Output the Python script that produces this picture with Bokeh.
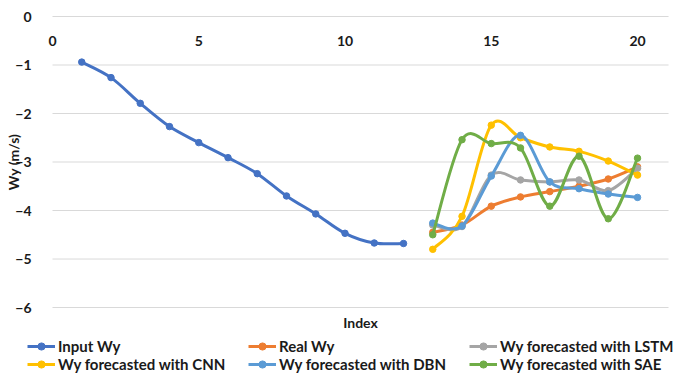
import numpy as np
from bokeh.plotting import figure
from bokeh.models import Range1d, Legend, LegendItem, Label, SingleIntervalTicker, FixedTicker
from bokeh.embed import file_html
from bokeh.resources import INLINE

# ---- data ----
input_x = [1, 2, 3, 4, 5, 6, 7, 8, 9, 10, 11, 12]
input_wy = [-0.94, -1.26, -1.79, -2.27, -2.60, -2.91, -3.24, -3.70, -4.07, -4.47, -4.67, -4.68]
fc_x = [13, 14, 15, 16, 17, 18, 19, 20]
real_wy = [-4.45, -4.30, -3.91, -3.72, -3.61, -3.50, -3.35, -3.10]
lstm_wy = [-4.30, -4.33, -3.27, -3.37, -3.41, -3.37, -3.59, -3.13]
cnn_wy = [-4.80, -4.12, -2.24, -2.50, -2.69, -2.78, -2.98, -3.27]
dbn_wy = [-4.26, -4.32, -3.29, -2.45, -3.41, -3.55, -3.66, -3.73]
sae_wy = [-4.50, -2.54, -2.62, -2.71, -3.91, -2.88, -4.17, -2.92]
y_ticks = [-6, -5, -4, -3, -2, -1, 0]
x_axis_min, x_axis_max = 0, 21.06

series = [
    ("Input Wy", input_x, input_wy, "#4472C4"),
    ("Real Wy", fc_x, real_wy, "#ED7D31"),
    ("Wy forecasted with LSTM", fc_x, lstm_wy, "#A5A5A5"),
    ("Wy forecasted with CNN", fc_x, cnn_wy, "#FFC000"),
    ("Wy forecasted with DBN", fc_x, dbn_wy, "#5B9BD5"),
    ("Wy forecasted with SAE", fc_x, sae_wy, "#70AD47"),
]

FONT = "Lato"
TXT = "#1a1a1a"
LW = 3
MS = 6.5


def smooth_segments(xs, ys):
    P = np.column_stack([np.asarray(xs, float), np.asarray(ys, float)])
    ext = np.vstack([P[0], P, P[-1]])
    seg = dict(x0=[], y0=[], x1=[], y1=[], cx0=[], cy0=[], cx1=[], cy1=[])
    for i in range(len(P) - 1):
        p0, p1, p2, p3 = ext[i], ext[i + 1], ext[i + 2], ext[i + 3]
        c1 = p1 + (p2 - p0) / 6.0
        c2 = p2 - (p3 - p1) / 6.0
        seg["x0"].append(p1[0]); seg["y0"].append(p1[1])
        seg["x1"].append(p2[0]); seg["y1"].append(p2[1])
        seg["cx0"].append(c1[0]); seg["cy0"].append(c1[1])
        seg["cx1"].append(c2[0]); seg["cy1"].append(c2[1])
    return seg


# frame covers the whole page; axes are pinned inside it
p = figure(width=673, height=374, output_backend="svg", toolbar_location=None,
           x_range=Range1d(-1.778, 21.23), y_range=Range1d(-7.381, 0.33),
           min_border_top=0, min_border_right=0, min_border_left=0, min_border_bottom=0)
p.outline_line_color = None
p.background_fill_color = "white"
p.border_fill_color = "white"
p.xgrid.visible = False
p.ygrid.visible = False

# horizontal gridlines (only over the plotting area)
p.segment(x0=[x_axis_min] * len(y_ticks), x1=[x_axis_max] * len(y_ticks),
          y0=y_ticks, y1=y_ticks, line_color="#d9d9d9", line_width=1, level="underlay")

items = []
for name, xs, ys, col in series:
    seg = smooth_segments(xs, ys)
    r1 = p.bezier(line_color=col, line_width=LW, **seg)
    r2 = p.scatter(xs, ys, size=MS, color=col)
    items.append(LegendItem(label=name, renderers=[r1, r2]))

ya = p.yaxis[0]
ya.fixed_location = x_axis_min
ya.bounds = (min(y_ticks), max(y_ticks))
ya.ticker = FixedTicker(ticks=y_ticks)
ya.axis_line_color = None
ya.major_tick_line_color = None
ya.minor_tick_line_color = None
ya.major_label_text_font = FONT
ya.major_label_text_font_style = "bold"
ya.major_label_text_font_size = "14px"
ya.major_label_text_color = TXT
ya.major_label_standoff = 15
ya.axis_label = "Wy (m/s)"
ya.axis_label_text_font = FONT
ya.axis_label_text_font_style = "bold"
ya.axis_label_text_font_size = "14px"
ya.axis_label_text_color = TXT
ya.axis_label_standoff = -10

xa = p.xaxis[0]
xa.fixed_location = max(y_ticks)
xa.bounds = (x_axis_min, x_axis_max)
xa.ticker = SingleIntervalTicker(interval=5)
xa.axis_line_color = None
xa.major_tick_line_color = None
xa.minor_tick_line_color = None
xa.major_label_text_font = FONT
xa.major_label_text_font_style = "bold"
xa.major_label_text_font_size = "14px"
xa.major_label_text_color = TXT
xa.major_label_standoff = 13

p.add_layout(Label(x=(x_axis_min + x_axis_max) / 2, y=min(y_ticks), y_offset=-15,
                   text="Index", text_align="center", text_baseline="middle",
                   text_font=FONT, text_font_style="bold", text_font_size="14px",
                   text_color=TXT))

legend = Legend(items=items, orientation="horizontal", ncols=3, location=(27, 1),
                label_text_font=FONT, label_text_font_style="bold", label_text_font_size="15px",
                label_text_color=TXT, glyph_width=28, glyph_height=18, label_standoff=3,
                label_width=190, label_height=18, spacing=0, padding=0, margin=0,
                border_line_color=None, background_fill_alpha=0)
p.add_layout(legend)

open("out.html", "w").write(file_html(p, INLINE))
